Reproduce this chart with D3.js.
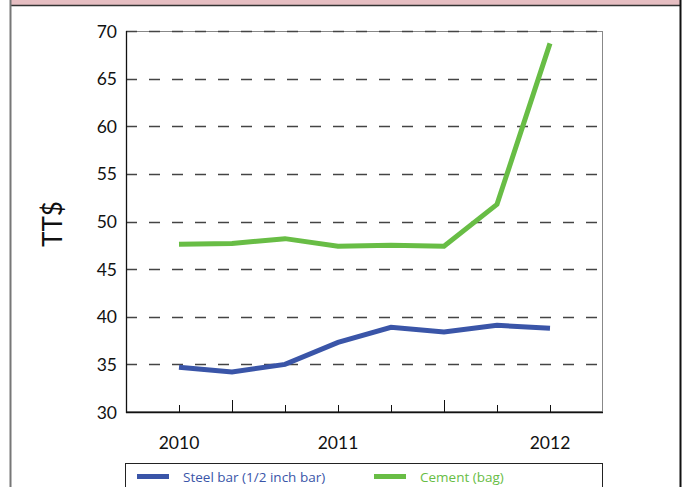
<!DOCTYPE html>
<html>
<head>
<meta charset="utf-8">
<script src="https://cdn.jsdelivr.net/npm/d3@7"></script>
<style>
  html, body { margin: 0; padding: 0; background: #fff; }
  svg { display: block; }
  text { font-family: "Open Sans", "Noto Sans", sans-serif; }
  .tick { font-family: Lato, "Open Sans", sans-serif; }
</style>
</head>
<body>
<svg id="chart" width="687" height="487"></svg>
<script>
// ---- data ----
const periods = [0, 1, 2, 3, 4, 5, 6, 7];
const steel = [34.7, 34.2, 35.0, 37.3, 38.9, 38.4, 39.1, 38.8];
const cement = [47.6, 47.7, 48.2, 47.4, 47.5, 47.4, 51.8, 68.7];
const yearLabels = ["2010", "2011", "2012"];
const yearPositions = [0, 3, 7];
const yTicks = [30, 35, 40, 45, 50, 55, 60, 65, 70];
const longTicks = [1, 5];
const seriesNames = ["Steel bar (1/2 inch bar)", "Cement (bag)"];
const seriesColors = ["#3a55a8", "#68bd45"];

const svg = d3.select("#chart");

// outer frame
svg.append("rect").attr("x", 11).attr("y", 0).attr("width", 669).attr("height", 5).attr("fill", "#e6bec2");
svg.append("line").attr("x1", 11).attr("x2", 681).attr("y1", 5.5).attr("y2", 5.5).attr("stroke", "#333").attr("stroke-width", 1.5);
svg.append("line").attr("x1", 10.5).attr("x2", 10.5).attr("y1", 0).attr("y2", 487).attr("stroke", "#777").attr("stroke-width", 2);
svg.append("line").attr("x1", 680.5).attr("x2", 680.5).attr("y1", 0).attr("y2", 487).attr("stroke", "#111").attr("stroke-width", 2);

const pLeft = 126, pRight = 603, pTop = 31, pBottom = 412;
const x = d3.scaleLinear().domain([-1, 8]).range([pLeft, pRight]);
const y = d3.scaleLinear().domain([30, 70]).range([pBottom, pTop]);

// plot frame
svg.append("rect").attr("x", pLeft + 0.5).attr("y", pTop + 0.5)
  .attr("width", pRight - pLeft - 1).attr("height", pBottom - pTop - 1)
  .attr("fill", "none").attr("stroke", "#888").attr("stroke-width", 1);

// gridlines
svg.append("g").selectAll("line").data(yTicks.filter(d => d > 30)).join("line")
  .attr("x1", pLeft).attr("x2", pRight)
  .attr("y1", d => Math.round(y(d)) + 0.5).attr("y2", d => Math.round(y(d)) + 0.5)
  .attr("stroke", "#444").attr("stroke-width", 1.3)
  .attr("stroke-dasharray", "11,12");

// left and bottom solid axes
svg.append("line").attr("x1", pLeft + 0.5).attr("x2", pLeft + 0.5).attr("y1", pTop).attr("y2", pBottom + 1).attr("stroke", "#111").attr("stroke-width", 1.3);
svg.append("line").attr("x1", pLeft).attr("x2", pRight).attr("y1", pBottom + 0.5).attr("y2", pBottom + 0.5).attr("stroke", "#111").attr("stroke-width", 1.3);

// y tick labels
svg.append("g").selectAll("text").data(yTicks).join("text")
  .attr("class", "tick")
  .attr("x", 117).attr("y", d => y(d))
  .attr("text-anchor", "end").attr("dominant-baseline", "central")
  .attr("font-size", 17.5).attr("fill", "#111")
  .text(d => d);

// x ticks (inward)
svg.append("g").selectAll("line").data(periods).join("line")
  .attr("x1", d => Math.round(x(d)) + 0.5).attr("x2", d => Math.round(x(d)) + 0.5)
  .attr("y1", pBottom).attr("y2", d => longTicks.includes(d) ? pBottom - 12 : pBottom - 7)
  .attr("stroke", "#111").attr("stroke-width", 1);

// x labels
svg.append("g").selectAll("text").data(yearPositions).join("text")
  .attr("class", "tick")
  .attr("x", d => x(d)).attr("y", 442)
  .attr("text-anchor", "middle").attr("dominant-baseline", "central")
  .attr("font-size", 17.5).attr("fill", "#111")
  .text((d, i) => yearLabels[i]);

// y title
svg.append("text").attr("class", "tick").attr("transform", "translate(62,224) rotate(-90)")
  .attr("text-anchor", "middle").attr("font-size", 26).attr("fill", "#111")
  .text("TT$");

// lines
const line = d3.line().x((d, i) => x(periods[i])).y(d => y(d));
[steel, cement].forEach((s, i) => {
  svg.append("path").datum(s).attr("d", line)
    .attr("fill", "none").attr("stroke", seriesColors[i]).attr("stroke-width", 5)
    .attr("stroke-linejoin", "miter");
});

// legend
svg.append("rect").attr("x", 125.5).attr("y", 463.5).attr("width", 477).attr("height", 40)
  .attr("fill", "#fff").attr("stroke", "#222").attr("stroke-width", 1);
const legX = [137, 374];
seriesNames.forEach((n, i) => {
  svg.append("rect").attr("x", legX[i]).attr("y", 474).attr("width", 32).attr("height", 5).attr("fill", seriesColors[i]);
  svg.append("text").attr("x", legX[i] + 46).attr("y", 477)
    .attr("dominant-baseline", "central").attr("font-size", 13.5).attr("fill", seriesColors[i])
    .text(n);
});
</script>
</body>
</html>
